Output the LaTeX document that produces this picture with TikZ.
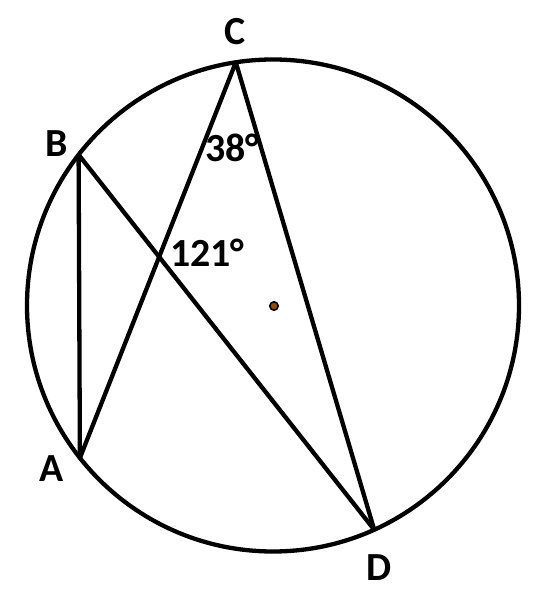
\documentclass[tikz,border=0pt]{standalone}
\usepackage{fontspec}
\setmainfont{Carlito}
\begin{document}
\begin{tikzpicture}[line join=bevel,x=1bp,y=1bp]
  \pgfsetlinewidth{4.3bp}
  \useasboundingbox (0bp,0bp) rectangle (544bp,600bp);
  \tikzset{lbl/.style={font=\fontsize{40}{40}\selectfont\bfseries,inner sep=0pt,anchor=base}}
  \definecolor{dotcol}{rgb}{0.58,0.30,0.02};
%%
\pgfsetcolor{black}
  % Node: O
  \coordinate (O) at (273bp,294.5bp);
  \draw (O) circle (246bp);
  \filldraw [fill=dotcol,line width=1.6bp] (274bp,294bp) circle (4.2bp);
  % Node: C
  \coordinate (C) at (235.8bp,537.7bp);
  \node [lbl] (labC) at (235bp,555bp) {C};
  % Node: B
  \coordinate (B) at (78.6bp,445.3bp);
  \node [lbl] (labB) at (56.5bp,443bp) {B};
  % Node: A
  \coordinate (A) at (79.9bp,142bp);
  \node [lbl] (labA) at (51.5bp,118bp) {A};
  % Node: D
  \coordinate (D) at (374.2bp,70.3bp);
  \node [lbl] (labD) at (379.5bp,20bp) {D};
  % Edge: B -> A
  \draw (B) -- (A);
  % Edge: A -> C -> D
  \draw (A) -- (C) -- (D);
  % Edge: B -> D
  \draw (B) -- (D);
  % Angles
  \node [lbl] (angC) at (232.5bp,438bp) {38°};
  \node [lbl] (angE) at (207.5bp,333bp) {121°};
%
\end{tikzpicture}
\end{document}
